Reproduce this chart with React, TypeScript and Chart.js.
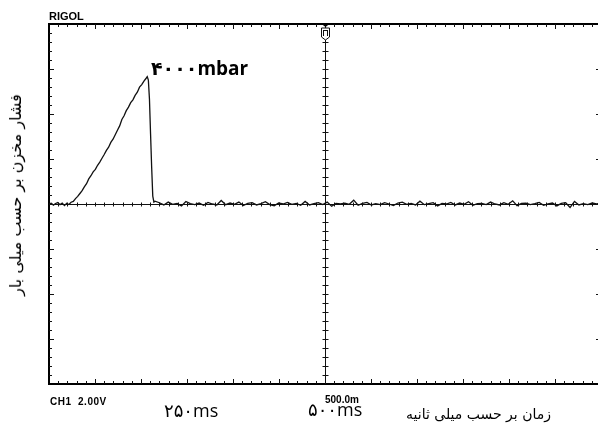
import React, { useEffect, useRef } from "react";
import { Chart, registerables } from "chart.js";

Chart.register(...registerables);

// ---- Data (time in ms, tank pressure in mbar) ----
const riseTimeMs = [
  0, 4, 8, 12, 16, 20, 24, 28, 32, 36, 40,
  44, 48, 52, 56, 60, 64, 68, 72, 76, 80, 84, 88, 92, 96, 100, 104, 108, 112, 116, 120,
  124, 128, 132, 136, 140, 144, 148, 152, 156, 160, 164, 168, 172, 176,
  178, 180, 182, 184, 186, 188, 190,
];
const risePressureMbar = [
  0, 25, -35, 15, 45, -20, 30, -50, 20, -15, 55,
  80, 170, 240, 330, 420, 540, 640, 790, 890, 1010, 1090, 1220, 1320, 1440, 1560, 1690, 1790, 1940, 2040, 2180,
  2320, 2460, 2660, 2780, 2940, 3050, 3190, 3280, 3420, 3520, 3680, 3760, 3870, 3960,
  4010, 3900, 3300, 2200, 1150, 250, 60,
];
const tailTimeMs = [
  192, 200, 208, 216, 224, 232, 240, 248, 256, 264,
  272, 280, 288, 296, 304, 312, 320, 328, 336, 344,
  352, 360, 368, 376, 384, 392, 400, 408, 416, 424,
  432, 440, 448, 456, 464, 472, 480, 488, 496, 504,
  512, 520, 528, 536, 544, 552, 560, 568, 576, 584,
  592, 600, 608, 616, 624, 632, 640, 648, 656, 664,
  672, 680, 688, 696, 704, 712, 720, 728, 736, 744,
  752, 760, 768, 776, 784, 792, 800, 808, 816, 824,
  832, 840, 848, 856, 864, 872, 880, 888, 896, 904,
  912, 920, 928, 936, 944, 952, 960, 968, 976, 984,
  992, 1000,
];
const tailPressureMbar = [
  90, 40, -30, 60, -10, 20, -60, 80, 10, -20,
  30, -40, 50, 0, -30, 110, -20, 30, -10, 60,
  -50, 20, 40, -30, 10, 70, -20, -60, 30, 0,
  50, -10, 20, -40, 80, -30, 10, 40, -20, 60,
  -70, 20, 0, 30, -10, 120, -40, 20, 50, -30,
  10, -20, 40, 0, -50, 30, 60, -10, 20, -30,
  90, -20, 10, 40, -60, 20, 0, 50, -30, 30,
  -10, 70, -40, 10, 20, -20, 60, 0, -30, 40,
  -10, 100, -50, 20, 30, -20, 10, 50, -40, 0,
  30, -60, 20, 40, -110, 80, -30, 10, -20, 30,
  0, 50,
];

// ---- Axis / graticule settings ----
const X_MIN_MS = 0;
const X_MAX_MS = 1000;
const X_CENTER_MS = 500;
const X_DIVS = 12;
const Y_DIVS = 8;
const SUBDIVS = 5;
const Y_DIV_MBAR = 1417;
const Y_MIN = -(Y_DIVS / 2) * Y_DIV_MBAR;
const Y_MAX = (Y_DIVS / 2) * Y_DIV_MBAR;

// ---- Texts ----
const brandText = "RIGOL";
const channelText = "CH1  2.00V";
const timebaseText = "500.0m";
const peakLabel = "۴۰۰۰mbar";
const xTickLabels = ["۲۵۰ms", "۵۰۰ms"];
const xAxisTitle = "زمان بر حسب میلی ثانیه";
const yAxisTitle = "فشار مخزن بر حسب میلی بار";

const seg = (ctx: CanvasRenderingContext2D, x1: number, y1: number, x2: number, y2: number) => {
  ctx.beginPath();
  ctx.moveTo(x1, y1);
  ctx.lineTo(x2, y2);
  ctx.stroke();
};

const graticulePlugin = {
  id: "graticule",
  beforeDatasetsDraw(chart: any) {
    const { ctx, chartArea, scales } = chart;
    const { left, right, top, bottom } = chartArea;
    const xs = scales.x;
    const ys = scales.y;
    const cx = Math.round(xs.getPixelForValue(X_CENTER_MS)) + 0.5;
    const cy = Math.round(ys.getPixelForValue(0)) + 0.5;
    ctx.save();
    ctx.strokeStyle = "#000";
    ctx.fillStyle = "#000";
    ctx.lineWidth = 2;
    ctx.strokeRect(left, top, right - left, bottom - top);
    ctx.lineWidth = 1;
    ctx.strokeStyle = "#111";
    seg(ctx, left, cy, right, cy);
    seg(ctx, cx, top, cx, bottom);
    const nx = X_DIVS * SUBDIVS;
    for (let i = 1; i < nx; i++) {
      const v = X_MIN_MS + (i * (X_MAX_MS - X_MIN_MS)) / nx;
      const px = Math.round(xs.getPixelForValue(v)) + 0.5;
      const major = i % SUBDIVS === 0;
      const len = major ? 5 : 3;
      seg(ctx, px, top, px, top + len);
      seg(ctx, px, bottom, px, bottom - len);
      seg(ctx, px, cy - 2, px, cy + 2);
    }
    const ny = Y_DIVS * SUBDIVS;
    for (let j = 1; j < ny; j++) {
      const v = Y_MIN + (j * (Y_MAX - Y_MIN)) / ny;
      const py = Math.round(ys.getPixelForValue(v)) + 0.5;
      const major = j % SUBDIVS === 0;
      const len = major ? 5 : 3;
      seg(ctx, left, py, left + len, py);
      seg(ctx, right, py, right - len, py);
      seg(ctx, cx - 3, py, cx + 3, py);
    }
    // trigger marker
    ctx.beginPath();
    ctx.moveTo(cx - 4, top);
    ctx.lineTo(cx + 4, top);
    ctx.lineTo(cx, top + 3);
    ctx.closePath();
    ctx.fill();
    ctx.beginPath();
    ctx.moveTo(cx - 4, top + 4);
    ctx.lineTo(cx + 4, top + 4);
    ctx.lineTo(cx + 4, top + 13);
    ctx.lineTo(cx, top + 16);
    ctx.lineTo(cx - 4, top + 13);
    ctx.closePath();
    ctx.fillStyle = "#fff";
    ctx.fill();
    ctx.stroke();
    seg(ctx, cx - 2.5, top + 6.5, cx + 2.5, top + 6.5);
    seg(ctx, cx - 2, top + 6.5, cx - 2, top + 12);
    seg(ctx, cx + 2, top + 6.5, cx + 2, top + 12);
    ctx.restore();
  },
};

type LabelProps = {
  text: string;
  x: number;
  baseline: number;
  size: number;
  family: string;
  weight?: number | string;
  align?: "left" | "right" | "center";
  dir?: "ltr" | "rtl";
  k?: number;
  spacing?: number;
};

const Label = ({ text, x, baseline, size, family, weight = "normal", align = "left", dir = "ltr", k = 0.85, spacing = 0 }: LabelProps) => {
  const style: React.CSSProperties = {
    position: "absolute",
    top: baseline - k * size,
    fontFamily: family,
    fontSize: size,
    fontWeight: weight as any,
    lineHeight: `${size}px`,
    letterSpacing: spacing,
    whiteSpace: "pre",
    color: "#000",
    direction: dir,
  };
  if (align === "left") style.left = x;
  else if (align === "right") style.right = 598 - x;
  else {
    style.left = x;
    style.transform = "translateX(-50%)";
  }
  return <div style={style} dir={dir}>{text}</div>;
};

export default function App() {
  const canvasRef = useRef<HTMLCanvasElement | null>(null);

  useEffect(() => {
    const canvas = canvasRef.current;
    if (!canvas) return;
    const points = [
      ...riseTimeMs.map((t, i) => ({ x: t, y: risePressureMbar[i] })),
      ...tailTimeMs.map((t, i) => ({ x: t, y: tailPressureMbar[i] })),
    ];
    const chart = new Chart(canvas, {
      type: "line",
      data: {
        datasets: [
          {
            data: points,
            borderColor: "#111",
            borderWidth: 1.3,
            pointRadius: 0,
            tension: 0,
            fill: false,
          },
        ],
      },
      options: {
        animation: false,
        responsive: false,
        devicePixelRatio: 1,
        parsing: false,
        layout: { padding: { left: 49, top: 24, right: 3, bottom: 42 } },
        scales: {
          x: { type: "linear", min: X_MIN_MS, max: X_MAX_MS, display: false },
          y: { type: "linear", min: Y_MIN, max: Y_MAX, display: false },
        },
        plugins: {
          legend: { display: false },
          tooltip: { enabled: false },
          title: { display: false },
        },
      },
      plugins: [graticulePlugin],
    });
    return () => chart.destroy();
  }, []);

  return (
    <div
      style={{
        position: "absolute",
        left: 0,
        top: 0,
        width: 598,
        height: 426,
        overflow: "hidden",
        background: "#fff",
      }}
    >
      <canvas ref={canvasRef} width={604} height={426} style={{ position: "absolute", left: 0, top: 0 }} />
      <Label text={brandText} x={49} baseline={20} size={11} family='"Liberation Sans", Arial, sans-serif' weight="bold" />
      <Label text={channelText} x={50} baseline={405} size={10} spacing={0.5} family='"Liberation Sans", Arial, sans-serif' weight="bold" />
      <Label text={timebaseText} x={325} baseline={403} size={10} family='"Liberation Sans", Arial, sans-serif' weight="bold" />
      <Label text={peakLabel} x={151} baseline={76} size={19} family='"Open Sans", "DejaVu Sans", sans-serif' weight="bold" k={0.89} />
      <Label text={xTickLabels[0]} x={164} baseline={417} size={18} family='"Open Sans", "DejaVu Sans", sans-serif' k={0.89} />
      <Label text={xTickLabels[1]} x={308} baseline={416} size={18} family='"Open Sans", "DejaVu Sans", sans-serif' k={0.89} />
      <Label text={xAxisTitle} x={551} baseline={419} size={14} family='"DejaVu Sans", sans-serif' align="right" dir="rtl" />
      <div
        dir="rtl"
        style={{
          position: "absolute",
          left: 16,
          top: 195,
          transform: "translate(-50%, -50%) rotate(-90deg)",
          fontFamily: '"DejaVu Sans", sans-serif',
          fontSize: 16,
          lineHeight: "16px",
          whiteSpace: "pre",
          color: "#000",
        }}
      >
        {yAxisTitle}
      </div>
    </div>
  );
}
